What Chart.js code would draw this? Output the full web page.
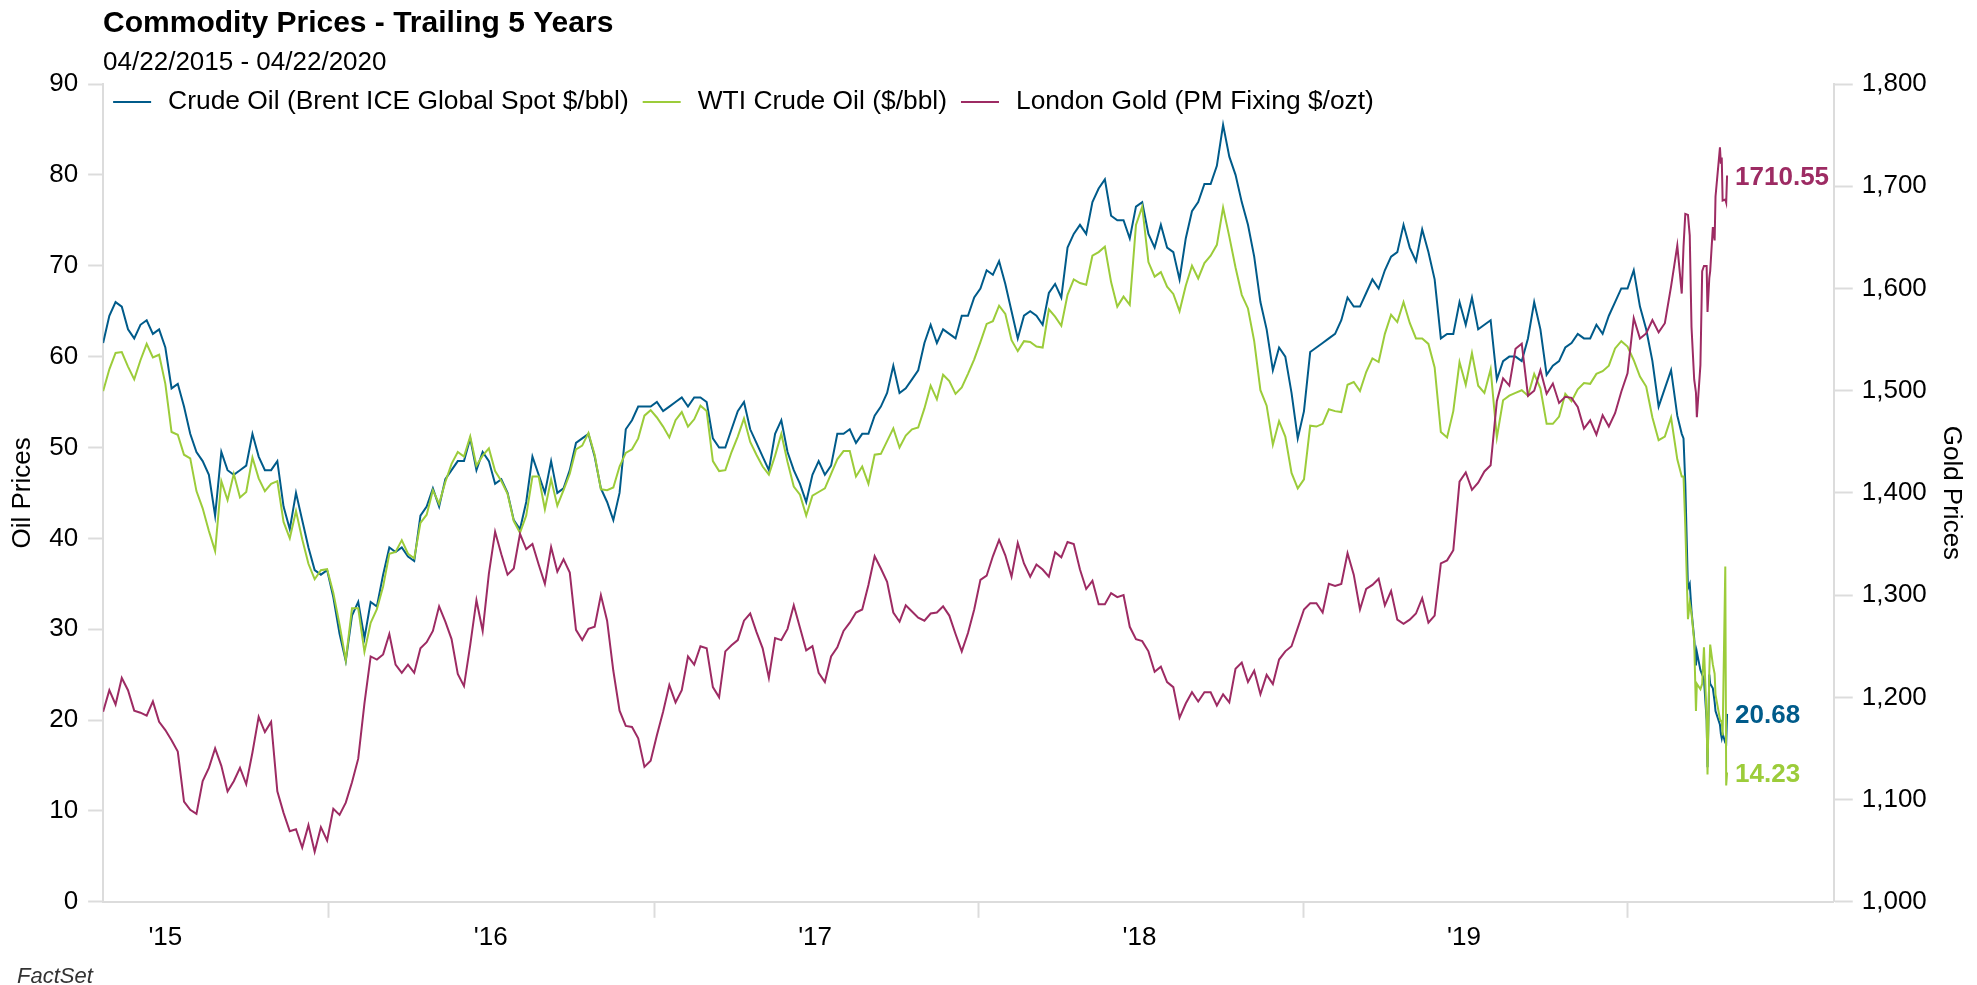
<!DOCTYPE html>
<html>
<head>
<meta charset="utf-8">
<title>Commodity Prices - Trailing 5 Years</title>
<script src="https://cdn.jsdelivr.net/npm/chart.js@4.4.1/dist/chart.umd.min.js"></script>
<style>
  html, body { margin: 0; padding: 0; background: #fff; }
  #wrap { width: 1977px; height: 985px; position: relative; }
</style>
</head>
<body>
<div id="wrap"><canvas id="chart"></canvas></div>
<script>
'use strict';

const FONT = "'Liberation Sans', Arial, sans-serif";
const DAY = 24 * 60 * 60 * 1000;
const FIRST_WEEK = Date.UTC(2015, 3, 22);
const X_MIN = FIRST_WEEK;
const X_MAX = Date.UTC(2020, 7, 20);

const BRENT_COLOR = '#005b8a';
const WTI_COLOR = '#9ccc3a';
const GOLD_COLOR = '#9d2b63';
const AXIS_GRAY = '#dcdcdc';

// one value per week, every 7 days from 04/22/2015 through 02/26/2020
const brentWeekly = [
  61.5, 64.5, 66.0, 65.5, 63.0, 62.0, 63.5, 64.0, 62.5, 63.0,
  61.0, 56.5, 57.0, 54.5, 51.5, 49.5, 48.5, 47.0, 42.5, 49.5,
  47.5, 47.0, 47.5, 48.0, 51.5, 49.0, 47.5, 47.5, 48.5, 43.5,
  41.0, 45.0, 42.0, 39.0, 36.5, 36.0, 36.5, 33.5, 29.5, 26.5,
  31.5, 33.0, 29.0, 33.0, 32.5, 36.0, 39.0, 38.5, 39.0, 38.0,
  37.5, 42.5, 43.5, 45.5, 43.5, 46.5, 47.5, 48.5, 48.5, 51.0,
  47.5, 49.5, 48.5, 46.0, 46.5, 45.0, 42.0, 41.0, 44.0, 49.0,
  47.0, 45.0, 48.5, 45.0, 45.5, 47.5, 50.5, 51.0, 51.5, 49.0,
  45.5, 44.0, 42.0, 45.0, 52.0, 53.0, 54.5, 54.5, 54.5, 55.0,
  54.0, 54.5, 55.0, 55.5, 54.5, 55.5, 55.5, 55.0, 51.0, 50.0,
  50.0, 52.0, 54.0, 55.0, 52.0, 50.5, 49.0, 47.5, 51.5, 53.0,
  49.5, 47.5, 46.0, 44.0, 47.0, 48.5, 47.0, 48.0, 51.5, 51.5,
  52.0, 50.5, 51.5, 51.5, 53.5, 54.5, 56.0, 59.0, 56.0, 56.5,
  57.5, 58.5, 61.5, 63.5, 61.5, 63.0, 62.5, 62.0, 64.5, 64.5,
  66.5, 67.5, 69.5, 69.0, 70.5, 68.0, 65.0, 62.0, 64.5, 65.0,
  64.5, 63.5, 67.0, 68.0, 66.5, 72.0, 73.5, 74.5, 73.5, 77.0,
  78.5, 79.5, 75.5, 75.0, 75.0, 73.0, 76.5, 77.0, 73.5, 72.0,
  74.5, 72.0, 71.5, 68.5, 73.0, 76.0, 77.0, 79.0, 79.0, 81.0,
  85.5, 82.0, 80.0, 77.0, 74.5, 71.0, 66.0, 63.0, 58.5, 61.0,
  60.0, 56.0, 51.0, 54.0, 60.5, 61.0, 61.5, 62.0, 62.5, 64.0,
  66.5, 65.5, 65.5, 67.0, 68.5, 67.5, 69.5, 71.0, 71.5, 74.5,
  72.0, 70.5, 74.0, 71.5, 68.5, 62.0, 62.5, 62.5, 66.0, 63.5,
  66.5, 63.0, 63.5, 64.0, 57.5, 59.5, 60.0, 60.0, 59.5, 62.0,
  66.0, 63.0, 58.0, 59.0, 59.5, 61.0, 61.5, 62.5, 62.0, 62.0,
  63.5, 62.5, 64.5, 66.0, 67.5, 67.5, 69.5, 65.5, 63.0, 59.5,
  54.5, 56.5, 58.5, 53.5
];

const wtiWeekly = [
  56.2, 58.6, 60.4, 60.5, 58.9, 57.5, 59.6, 61.4, 59.9, 60.2,
  57.0, 51.7, 51.4, 49.2, 48.8, 45.2, 43.3, 40.8, 38.6, 46.3,
  44.2, 47.1, 44.5, 45.1, 48.9, 46.6, 45.2, 46.0, 46.3, 41.8,
  40.0, 43.0, 39.9, 37.2, 35.5, 36.5, 36.6, 34.0, 30.5, 26.6,
  32.3, 32.3, 27.5, 30.7, 32.2, 34.7, 38.3, 38.5, 39.8, 38.3,
  37.8, 41.7, 42.6, 45.3, 43.8, 46.2, 48.2, 49.5, 49.0, 51.2,
  48.0, 49.1, 49.9, 47.4, 46.3, 44.9, 41.9, 40.6, 42.5, 46.8,
  46.8, 43.2, 46.5, 43.6, 45.3, 47.1, 49.8, 50.2, 51.6, 49.2,
  45.4, 45.3, 45.6, 47.9, 49.4, 49.8, 51.0, 53.5, 54.1, 53.3,
  52.3, 51.1, 53.0, 53.9, 52.3, 53.1, 54.6, 54.0, 48.5, 47.4,
  47.5, 49.5, 51.2, 53.2, 50.6, 49.2, 47.9, 47.0, 49.1, 51.5,
  48.4, 45.7, 44.8, 42.5, 44.7, 45.1, 45.5, 47.1, 48.7, 49.6,
  49.6, 46.8, 47.9, 46.0, 49.2, 49.3, 50.7, 52.1, 50.0, 51.3,
  52.0, 52.2, 54.3, 56.8, 55.3, 58.0, 57.3, 55.9, 56.6, 58.1,
  59.7, 61.6, 63.6, 63.9, 65.6, 64.7, 61.8, 60.6, 61.7, 61.6,
  61.1, 61.0, 65.2, 64.4, 63.4, 66.8, 68.5, 68.1, 67.9, 71.1,
  71.5, 72.1, 68.2, 65.5, 66.6, 65.7, 74.5, 76.5, 70.4, 68.8,
  69.3, 67.7, 66.9, 65.0, 67.8, 70.0, 68.6, 70.3, 71.1, 72.3,
  76.4, 73.2, 69.8, 66.8, 65.3, 61.7, 56.3, 54.6, 50.3, 52.9,
  51.2, 47.2, 45.5, 46.5, 52.4, 52.3, 52.6, 54.2, 54.0, 53.9,
  56.9, 57.2, 56.2, 58.3, 59.8, 59.4, 62.5, 64.6, 63.8, 66.0,
  63.7, 62.0, 62.0, 61.4, 58.8, 51.7, 51.1, 54.0, 59.4, 56.9,
  60.4, 56.8, 56.0, 58.6, 51.1, 55.2, 55.7, 56.0, 56.3, 55.7,
  58.1, 56.5, 52.6, 52.6, 53.4, 55.9, 55.1, 56.4, 57.1, 57.0,
  58.1, 58.4, 59.0, 60.9, 61.7, 61.1, 59.6, 57.8, 56.7, 53.3,
  50.8, 51.2, 53.3, 48.7
];

const goldWeekly = [
  1186, 1207, 1193, 1219, 1207, 1187, 1185, 1182, 1196, 1176,
  1168, 1158, 1147, 1098, 1090, 1086, 1118, 1131, 1150, 1133,
  1108, 1118, 1131, 1115, 1146, 1181, 1166, 1176, 1108, 1087,
  1069, 1071, 1053, 1075, 1049, 1073, 1060, 1091, 1085, 1097,
  1117, 1140, 1194, 1240, 1237, 1242, 1262, 1232, 1224, 1232,
  1224, 1248, 1254, 1265, 1289, 1274, 1257, 1223, 1211, 1251,
  1295, 1265, 1321, 1362, 1340, 1320, 1326, 1360, 1345, 1350,
  1330, 1311, 1347, 1323, 1335, 1322, 1266, 1256, 1267, 1269,
  1300, 1275, 1226, 1187, 1172, 1171, 1160, 1132, 1138, 1163,
  1186, 1212, 1195, 1207, 1240, 1232, 1250, 1248, 1210, 1200,
  1245, 1251, 1256, 1275, 1282, 1264, 1248, 1219, 1258, 1256,
  1267, 1290, 1268, 1246, 1250, 1224, 1215, 1240, 1249, 1265,
  1273, 1283, 1286, 1310, 1338, 1326, 1313, 1283, 1274, 1290,
  1284, 1278, 1275, 1282, 1283, 1289, 1280, 1262, 1245, 1263,
  1286, 1315, 1319, 1338, 1354, 1339, 1318, 1351, 1331, 1318,
  1330, 1325, 1318, 1342, 1337, 1352, 1350, 1325, 1306, 1314,
  1291, 1291, 1302, 1298, 1300, 1269, 1257, 1255, 1245, 1225,
  1230, 1215, 1210, 1180, 1194, 1205, 1196, 1205, 1205, 1192,
  1203, 1195, 1228, 1234, 1215, 1226, 1203, 1222, 1213, 1237,
  1245, 1250, 1268, 1286, 1292, 1292, 1283, 1311, 1309, 1311,
  1341, 1320, 1286, 1306, 1310, 1316, 1290, 1304, 1276, 1272,
  1276, 1282, 1297, 1273, 1280, 1331, 1334, 1344, 1411, 1420,
  1403, 1410, 1421, 1427, 1490, 1512, 1505, 1541, 1546, 1495,
  1500, 1520, 1497, 1507, 1488, 1494, 1493, 1484, 1463, 1471,
  1457, 1476, 1465, 1478, 1499, 1517, 1571, 1551, 1556, 1569,
  1557, 1566, 1602, 1642
];

// March-April 2020 moved too fast for weekly points
const lateDates = [
  '2020-03-02', '2020-03-04', '2020-03-06', '2020-03-09', '2020-03-11', '2020-03-13',
  '2020-03-16', '2020-03-18', '2020-03-19', '2020-03-23', '2020-03-25', '2020-03-27',
  '2020-03-30', '2020-03-31', '2020-04-02', '2020-04-03', '2020-04-06', '2020-04-08',
  '2020-04-09', '2020-04-14', '2020-04-15', '2020-04-16', '2020-04-17', '2020-04-20',
  '2020-04-21', '2020-04-22'
];
const brentLate = [
  51.5, 51.0, 46.0, 34.5, 35.0, 32.0, 29.0, 26.0, 27.5, 25.5, 25.0, 24.5, 20.0,
  14.8, 25.0, 24.0, 23.5, 22.0, 21.0, 19.5, 18.5, 18.0, 18.5, 17.5, 17.4, 20.68
];
const wtiLate = [
  46.8, 46.8, 41.3, 31.1, 32.9, 31.7, 28.7, 21.0, 24.0, 23.4, 24.0, 28.0, 20.1,
  14.0, 25.3, 28.3, 26.1, 25.1, 22.8, 20.1, 19.9, 19.9, 18.3, 36.9, 12.8, 14.23
];
const goldLate = [
  1595, 1641, 1673, 1672, 1652, 1562, 1511, 1498, 1474, 1525, 1617, 1622, 1622,
  1577, 1610, 1617, 1660, 1647, 1690, 1738, 1722, 1728, 1686, 1687, 1684, 1710.55
];

// tick marks sit on Jan 1, the year labels on Jul 1
const yearBoundaries = [2016, 2017, 2018, 2019, 2020];
const labelYears = [2015, 2016, 2017, 2018, 2019];

const weeklyDates = brentWeekly.map((_, i) => FIRST_WEEK + i * 7 * DAY);
const allDates = weeklyDates.concat(lateDates.map((d) => Date.parse(d + 'T00:00:00Z')));

function toPoints(values) {
  return values.map((y, i) => ({ x: allDates[i], y }));
}

function isYearStart(value) {
  return new Date(value).getUTCMonth() === 0;
}

Chart.defaults.font.family = FONT;
Chart.defaults.color = '#000';

const overlayPlugin = {
  id: 'overlay',
  afterDatasetsDraw(chart) {
    const { ctx } = chart;
    ctx.save();
    ctx.font = `bold 26px ${FONT}`;
    ctx.textAlign = 'left';
    ctx.textBaseline = 'middle';
    chart.data.datasets.forEach((ds, i) => {
      const meta = chart.getDatasetMeta(i);
      const last = meta.data[meta.data.length - 1];
      ctx.fillStyle = ds.borderColor;
      ctx.fillText(String(ds.data[ds.data.length - 1].y), last.x + 8, last.y + 2);
    });
    ctx.restore();
  },
  afterDraw(chart) {
    const { ctx, chartArea } = chart;
    ctx.save();

    // legend sits inside the plot, just under the top edge
    let x = chartArea.left + 10;
    const y = chartArea.top + 18;
    ctx.font = `26.4px ${FONT}`;
    ctx.textBaseline = 'middle';
    ctx.lineWidth = 2;
    for (const ds of chart.data.datasets) {
      ctx.strokeStyle = ds.borderColor;
      ctx.beginPath();
      ctx.moveTo(x, y);
      ctx.lineTo(x + 38, y);
      ctx.stroke();
      ctx.fillStyle = '#000';
      ctx.fillText(ds.label, x + 55, y);
      x += 55 + ctx.measureText(ds.label).width + 14;
    }

    ctx.font = `italic 22px ${FONT}`;
    ctx.textBaseline = 'alphabetic';
    ctx.fillStyle = '#333';
    ctx.fillText('FactSet', 17, chart.height - 2);
    ctx.restore();
  }
};

new Chart(document.getElementById('chart'), {
  type: 'line',
  data: {
    datasets: [
      {
        label: 'Crude Oil (Brent ICE Global Spot $/bbl)',
        data: toPoints(brentWeekly.concat(brentLate)),
        borderColor: BRENT_COLOR,
        backgroundColor: BRENT_COLOR,
        yAxisID: 'yOil',
        order: 2
      },
      {
        label: 'WTI Crude Oil ($/bbl)',
        data: toPoints(wtiWeekly.concat(wtiLate)),
        borderColor: WTI_COLOR,
        backgroundColor: WTI_COLOR,
        yAxisID: 'yOil',
        order: 1
      },
      {
        label: 'London Gold (PM Fixing $/ozt)',
        data: toPoints(goldWeekly.concat(goldLate)),
        borderColor: GOLD_COLOR,
        backgroundColor: GOLD_COLOR,
        yAxisID: 'yGold',
        order: 0
      }
    ]
  },
  options: {
    responsive: true,
    maintainAspectRatio: false,
    animation: false,
    elements: {
      line: { borderWidth: 2, tension: 0 },
      point: { radius: 0 }
    },
    layout: { padding: { left: 4, right: 6, top: 0, bottom: 28 } },
    plugins: {
      legend: { display: false },
      tooltip: { enabled: false },
      title: {
        display: true,
        text: 'Commodity Prices - Trailing 5 Years',
        align: 'start',
        fullSize: false,
        color: '#000',
        font: { size: 30, weight: 'bold' },
        padding: { top: 5.6, bottom: 0 }
      },
      subtitle: {
        display: true,
        text: '04/22/2015 - 04/22/2020',
        align: 'start',
        fullSize: false,
        color: '#000',
        font: { size: 26 },
        padding: { top: 5.2, bottom: 6 }
      }
    },
    scales: {
      x: {
        type: 'linear',
        min: X_MIN,
        max: X_MAX,
        afterBuildTicks(scale) {
          const values = yearBoundaries.map((y) => Date.UTC(y, 0, 1))
            .concat(labelYears.map((y) => Date.UTC(y, 6, 1)))
            .sort((a, b) => a - b);
          scale.ticks = values.map((value) => ({ value }));
        },
        ticks: {
          autoSkip: false,
          maxRotation: 0,
          padding: 4,
          font: { size: 26 },
          callback(value) {
            if (isYearStart(value)) {
              return '';
            }
            return `'${String(new Date(value).getUTCFullYear()).slice(2)}`;
          }
        },
        grid: {
          drawOnChartArea: false,
          tickLength: 16,
          tickWidth: 2,
          tickColor: (ctx) => (ctx.tick && isYearStart(ctx.tick.value) ? AXIS_GRAY : 'rgba(0,0,0,0)')
        },
        border: { color: AXIS_GRAY, width: 2 }
      },
      yOil: {
        position: 'left',
        min: 0,
        max: 90,
        ticks: { stepSize: 10, padding: 10, font: { size: 26 } },
        grid: { drawOnChartArea: false, tickLength: 15, tickWidth: 2, tickColor: AXIS_GRAY },
        border: { color: AXIS_GRAY, width: 2 },
        title: {
          display: true,
          text: 'Oil Prices',
          font: { size: 26 },
          padding: { top: 3.5, bottom: 0.5 }
        }
      },
      yGold: {
        position: 'right',
        min: 1000,
        max: 1800,
        ticks: {
          stepSize: 100,
          padding: 9,
          font: { size: 26 },
          callback: (value) => Number(value).toLocaleString('en-US')
        },
        grid: { drawOnChartArea: false, tickLength: 19, tickWidth: 2, tickColor: AXIS_GRAY },
        border: { color: AXIS_GRAY, width: 2 },
        title: {
          display: true,
          text: 'Gold Prices',
          font: { size: 26 },
          padding: { top: 4, bottom: 0 }
        }
      }
    }
  },
  plugins: [overlayPlugin]
});
</script>
</body>
</html>
